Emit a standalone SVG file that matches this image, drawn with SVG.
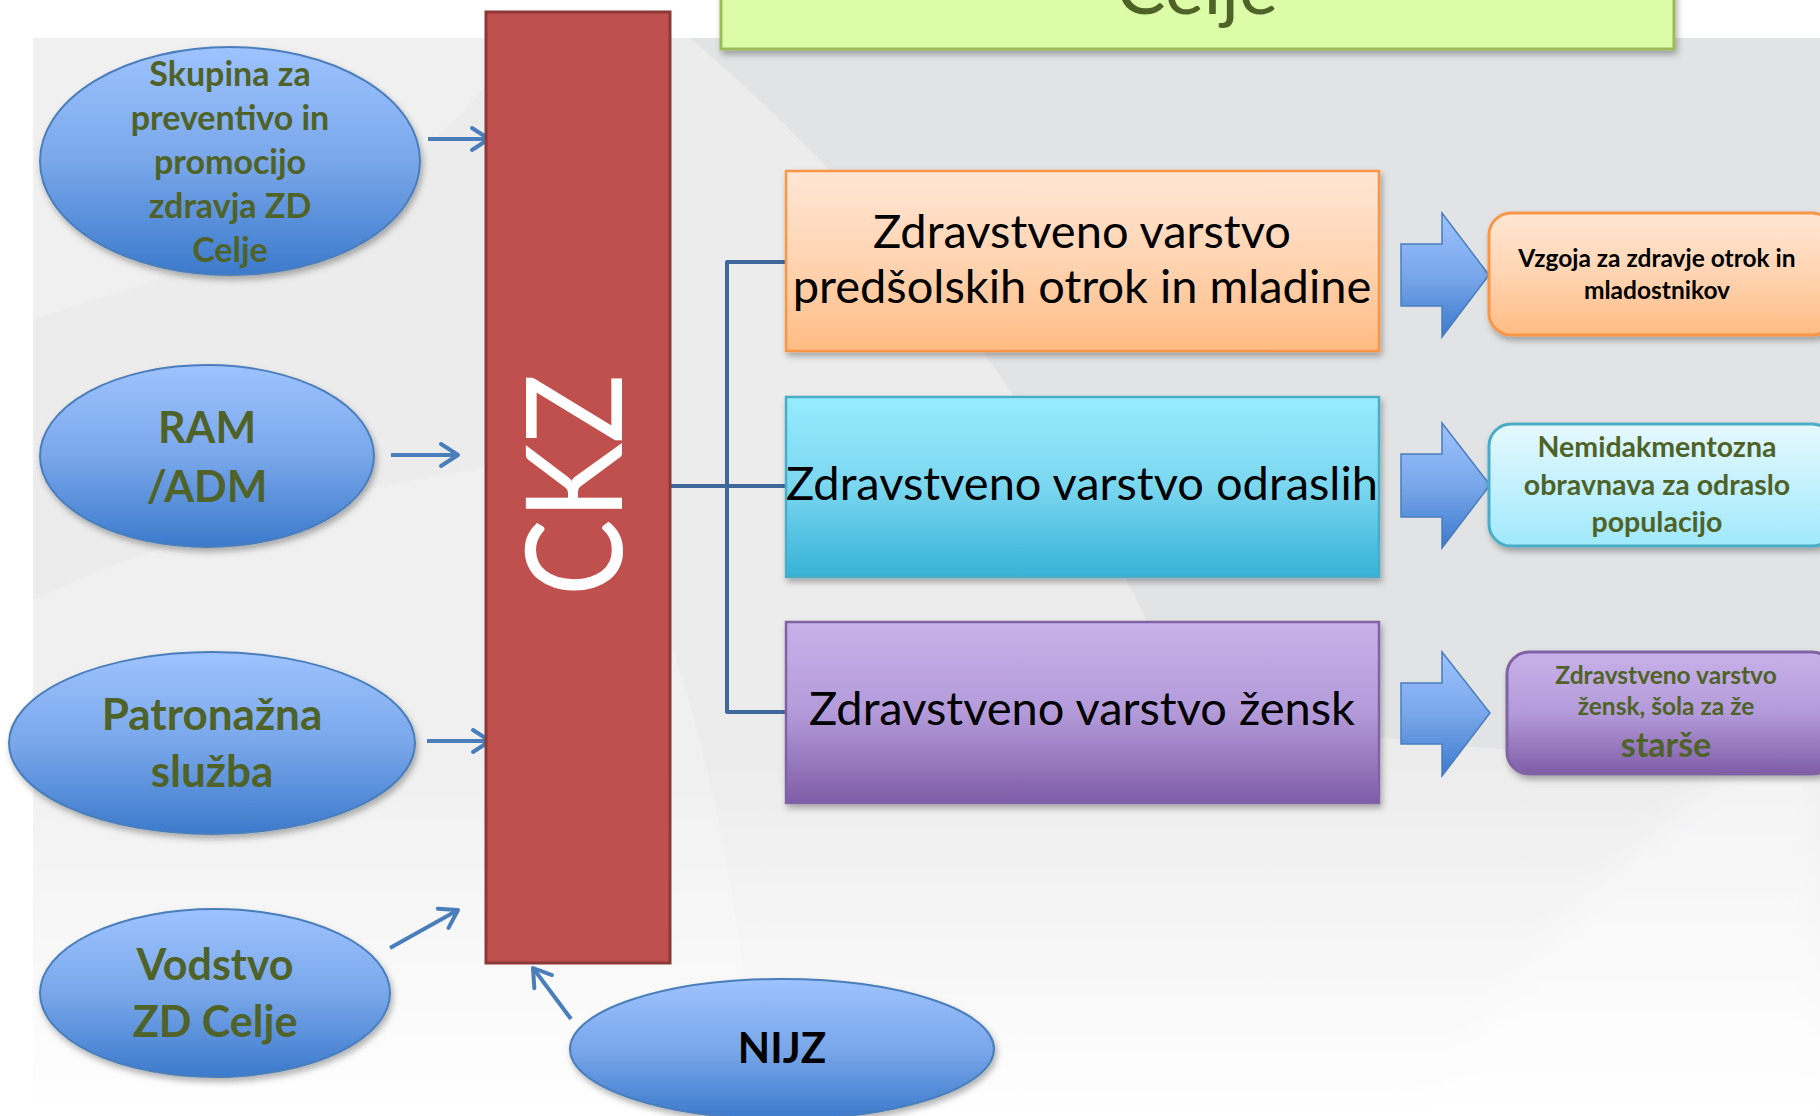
<svg xmlns="http://www.w3.org/2000/svg" width="1820" height="1116" viewBox="0 0 1820 1116">
<style>
.ell{stroke:#4A7EBB;stroke-width:2;fill:url(#gBlue);filter:url(#sh)}
.et{font-family:Lato,"Liberation Sans",sans-serif;font-weight:bold;fill:#4F6228;text-anchor:middle}
.bt{font-family:Lato,"Liberation Sans",sans-serif;fill:#000;text-anchor:middle;font-size:47px}
.rt{font-family:Lato,"Liberation Sans",sans-serif;font-weight:bold;fill:#4F6228;text-anchor:middle}
.conn{fill:none;stroke:#41689A;stroke-width:4;stroke-linejoin:round}
.thin{fill:none;stroke:#4A7EBB;stroke-width:4;marker-end:url(#ah)}
.blk{fill:url(#gBlue);stroke:#4A7EBB;stroke-width:1.5}
</style>
<defs>
<linearGradient id="gBlue" x1="0" y1="0" x2="0" y2="1"><stop offset="0" stop-color="#9EC3FF"/><stop offset="0.5" stop-color="#79A7EA"/><stop offset="1" stop-color="#3C7ACC"/></linearGradient>
<linearGradient id="gOr" x1="0" y1="0" x2="0" y2="1"><stop offset="0" stop-color="#FFE6D4"/><stop offset="0.5" stop-color="#FFD4B2"/><stop offset="1" stop-color="#FFBC84"/></linearGradient>
<linearGradient id="gCy" x1="0" y1="0" x2="0" y2="1"><stop offset="0" stop-color="#97ECFE"/><stop offset="0.5" stop-color="#7AD6EF"/><stop offset="1" stop-color="#37B2D8"/></linearGradient>
<linearGradient id="gPu" x1="0" y1="0" x2="0" y2="1"><stop offset="0" stop-color="#C8B1EA"/><stop offset="0.5" stop-color="#B39AD9"/><stop offset="1" stop-color="#7F5DA8"/></linearGradient>
<linearGradient id="gCyL" x1="0" y1="0" x2="0" y2="1"><stop offset="0" stop-color="#E6F9FE"/><stop offset="1" stop-color="#A0E9FC"/></linearGradient>
<linearGradient id="gBg" x1="0" y1="0" x2="0" y2="1"><stop offset="0" stop-color="#FFFFFF" stop-opacity="0"/><stop offset="0.6" stop-color="#FFFFFF" stop-opacity="0.6"/><stop offset="1" stop-color="#FFFFFF" stop-opacity="1"/></linearGradient>
<filter id="sh" x="-10%" y="-10%" width="125%" height="130%"><feDropShadow dx="2" dy="4" stdDeviation="3" flood-color="#000" flood-opacity="0.3"/></filter>
<filter id="blur"><feGaussianBlur stdDeviation="12"/></filter>
<marker id="ah" markerUnits="userSpaceOnUse" viewBox="0 0 26 28" markerWidth="26" markerHeight="28" refX="23" refY="14" orient="auto"><path d="M6,3 L23,14 L6,25" fill="none" stroke="#4A7EBB" stroke-width="4" stroke-linecap="round" stroke-linejoin="round"/></marker>
</defs>
<g id="background">
<rect x="0" y="0" width="1820" height="1116" fill="#FFFFFF"/>
<rect x="33" y="38" width="1787" height="1078" fill="#E2E3E5"/>
<path d="M33,38 H690 C880,200 1060,420 1180,690 C1380,760 1620,760 1820,740 V1116 H33 Z" fill="#ECECED"/>
<path d="M33,38 H520 C420,200 250,250 33,320 Z" fill="#F0F0F1"/>
<path d="M33,600 C200,520 420,470 560,460 C640,520 720,700 760,1116 H33 Z" fill="#F0F0F1"/>
<path d="M1820,700 C1650,820 1520,950 1420,1116 H1820 Z" fill="#F3F3F4" filter="url(#blur)"/>
<rect x="33" y="760" width="1787" height="356" fill="url(#gBg)"/>
</g>
<g id="title">
<rect x="721" y="-60" width="953" height="109" fill="#DDFCA8" stroke="#9BBB59" stroke-width="3" filter="url(#sh)"/>
<text x="1197" y="14" font-family="Lato,'Liberation Sans',sans-serif" font-size="74" fill="#4F6228" text-anchor="middle">Celje</text>
</g>
<g id="connectors">
<path class="conn" d="M670,486 H786 M786,262 H727 V712 H786"/>
<line class="thin" x1="428" y1="139" x2="489" y2="139"/>
<line class="thin" x1="391" y1="455" x2="458" y2="455"/>
<line class="thin" x1="427" y1="741" x2="490" y2="741"/>
<line class="thin" x1="390" y1="948" x2="458" y2="910"/>
<line class="thin" x1="571" y1="1019" x2="533" y2="968"/>
<path class="blk" d="M1401,244 H1442 V213 L1489,275 L1442,337 V306 H1401 Z"/>
<path class="blk" d="M1401,454 H1442 V423 L1490,485 L1442,548 V517 H1401 Z"/>
<path class="blk" d="M1401,683 H1442 V652 L1490,713 L1442,776 V744 H1401 Z"/>
</g>
<g id="ckz">
<rect x="486" y="12" width="184" height="951" fill="#C0504D" stroke="#8C3836" stroke-width="3"/>
<text transform="translate(622,485) rotate(-90)" font-family="Lato,'Liberation Sans',sans-serif" font-size="134" fill="#FFFFFF" text-anchor="middle" textLength="222" lengthAdjust="spacingAndGlyphs">CKZ</text>
</g>
<g id="skupina">
<ellipse class="ell" cx="230" cy="161" rx="190" ry="114"/>
<text class="et" font-size="34"><tspan x="230" y="86">Skupina za</tspan><tspan x="230" y="130">preventivo in</tspan><tspan x="230" y="174">promocijo</tspan><tspan x="230" y="218">zdravja ZD</tspan><tspan x="230" y="262">Celje</tspan></text>
</g>
<g id="ram">
<ellipse class="ell" cx="207" cy="456" rx="167" ry="91"/>
<text class="et" font-size="43"><tspan x="207" y="443">RAM</tspan><tspan x="207" y="502">/ADM</tspan></text>
</g>
<g id="patronazna">
<ellipse class="ell" cx="212" cy="743" rx="203" ry="91"/>
<text class="et" font-size="44"><tspan x="212" y="730">Patronažna</tspan><tspan x="212" y="787">služba</tspan></text>
</g>
<g id="vodstvo">
<ellipse class="ell" cx="215" cy="993" rx="175" ry="84"/>
<text class="et" font-size="43"><tspan x="215" y="980">Vodstvo</tspan><tspan x="215" y="1037">ZD Celje</tspan></text>
</g>
<g id="nijz">
<ellipse class="ell" cx="782" cy="1049" rx="212" ry="70"/>
<text class="et" font-size="42" style="fill:#000"><tspan x="782" y="1063">NIJZ</tspan></text>
</g>
<g id="box-otroci">
<rect x="786" y="171" width="593" height="180" fill="url(#gOr)" stroke="#F79646" stroke-width="2.5" filter="url(#sh)"/>
<text class="bt"><tspan x="1082" y="248">Zdravstveno varstvo</tspan><tspan x="1082" y="303">predšolskih otrok in mladine</tspan></text>
</g>
<g id="box-odrasli">
<rect x="786" y="397" width="593" height="180" fill="url(#gCy)" stroke="#4BACC6" stroke-width="2.5" filter="url(#sh)"/>
<text class="bt" x="1082" y="500" font-size="46.5">Zdravstveno varstvo odraslih</text>
</g>
<g id="box-zenske">
<rect x="786" y="622" width="593" height="181" fill="url(#gPu)" stroke="#8064A2" stroke-width="2.5" filter="url(#sh)"/>
<text class="bt" x="1082" y="725">Zdravstveno varstvo žensk</text>
</g>
<g id="vzgoja">
<rect x="1489" y="213" width="345" height="122" rx="22" fill="url(#gOr)" stroke="#F79646" stroke-width="3" filter="url(#sh)"/>
<text class="rt" font-size="24.5" style="fill:#000"><tspan x="1657" y="267">Vzgoja za zdravje otrok in</tspan><tspan x="1657" y="299">mladostnikov</tspan></text>
</g>
<g id="nemedikamentozna">
<rect x="1489" y="424" width="345" height="122" rx="22" fill="url(#gCyL)" stroke="#4BACC6" stroke-width="3" filter="url(#sh)"/>
<text class="rt" font-size="28.5"><tspan x="1657" y="457">Nemidakmentozna</tspan><tspan x="1657" y="495">obravnava za odraslo</tspan><tspan x="1657" y="532">populacijo</tspan></text>
</g>
<g id="zenske-sola">
<rect x="1507" y="652" width="327" height="122" rx="22" fill="url(#gPu)" stroke="#8064A2" stroke-width="3" filter="url(#sh)"/>
<text class="rt"><tspan x="1666" y="684" font-size="24.5">Zdravstveno varstvo</tspan><tspan x="1666" y="715" font-size="24.5">žensk, šola za že</tspan><tspan x="1666" y="757" font-size="34">starše</tspan></text>
</g>
</svg>
